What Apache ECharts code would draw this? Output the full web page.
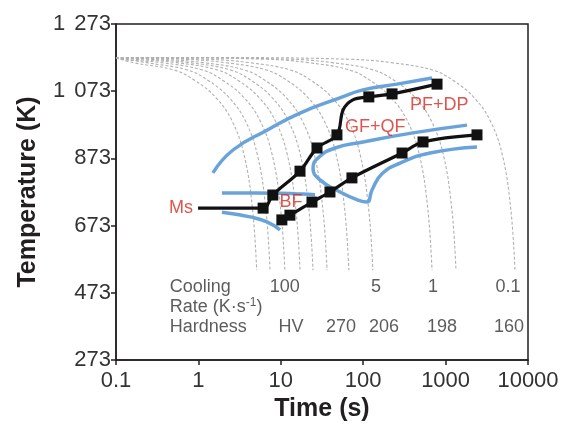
<!DOCTYPE html>
<html><head><meta charset="utf-8">
<script src="https://cdn.jsdelivr.net/npm/echarts@6/dist/echarts.min.js"></script>
<style>html,body{margin:0;padding:0;background:#fff}#c{width:577px;height:424px}</style>
</head><body><div id="c"></div>
<script>
// ---- data ----
const xTicks = [0.1, 1, 10, 100, 1000, 10000];
const yTicks = [273, 473, 673, 873, 1073, 1273];
// cooling curves: time (s) at which each dashed curve reaches its end temperature
const coolEndTimes = [5.1, 7.4, 11.2, 17.1, 24.6, 36.4, 67, 131, 684, 1337, 6950];
// shared shape of the cooling curves: log-offset before the end time, and temperature (K)
const coolShapeOffset = [3.5, 2.0, 1.5, 1.0, 0.75, 0.5, 0.3, 0.15, 0.05, 0];
const coolShapeTemp   = [1173, 1168, 1158, 1136, 1105, 1055, 985, 880, 720, 540];
// transformation curves (black with square markers)
const upperTime = [0.99, 6.1, 8.0, 17.1, 27.5, 48, 57, 75, 117, 224, 787];
const upperTemp = [725, 725, 764, 835, 904, 943, 1017, 1047, 1056, 1065, 1094];
const upperMark = [0, 1, 1, 1, 1, 1, 0, 0, 1, 1, 1];
const lowerTime = [10.3, 12.9, 23.9, 39.5, 73, 296, 532, 2404];
const lowerTemp = [690, 704, 743, 773, 815, 889, 922, 943];
// blue phase-field boundaries
const blue1Time = [1.5, 2.63, 6.8, 17.1, 52, 99.5, 257, 684];
const blue1Temp = [830, 898, 957, 1008, 1053, 1077, 1094, 1112];
const blue2Time = [1.93, 5, 10, 18, 26];
const blue2Temp = [770, 770, 769, 767, 765];
const blue3Time = [1820, 402, 99.5, 45.5, 28.3, 24.6, 29.9, 52.3, 86.5, 111, 128, 169, 280, 647, 2404];
const blue3Temp = [972, 949, 922, 904, 874, 844, 809, 773, 749, 743, 779, 827, 859, 889, 907];
const blue4Time = [1.93, 4.23, 6.8, 9.8];
const blue4Temp = [713, 699, 684, 660];
// phase labels
const phaseLabels = ['Ms', 'BF', 'GF+QF', 'PF+DP'];
const phaseTime = [0.86, 13.3, 60, 370];
const phaseTemp = [725, 742, 966, 1032];
const phaseAlign = ['right', 'center', 'left', 'left'];
// cooling rate / hardness annotations
const rowTitles = ['Cooling', 'Rate (K·s{sup|-1})', 'Hardness'];
const rowTemp = [490, 431, 371];
const rowTime = 0.45;
const rateLabels = ['100', '5', '1', '0.1'];
const rateTime = [11.2, 143, 703, 5715];
const hardLabels = ['HV', '270', '206', '198', '160'];
const hardTime = [13.3, 53.8, 179, 903, 5870];

// ---- build ----
const zip = (a, b) => a.map((v, i) => [v, b[i]]);
const FONT = 'Liberation Sans, Arial, sans-serif';
const series = [];
coolEndTimes.forEach(te => {
  const pts = [[0.1, 1173]];
  coolShapeOffset.forEach((d, i) => {
    const t = te / Math.pow(10, d);
    if (t > 0.1) pts.push([t, coolShapeTemp[i]]);
  });
  series.push({type: 'line', data: pts, smooth: 0.4, symbol: 'none', silent: true,
    lineStyle: {color: '#b0b0b0', width: 1.1, type: [3, 2]}, z: 1});
});
const blueStyle = {color: '#6aa3d9', width: 3.5};
[[blue1Time, blue1Temp], [blue2Time, blue2Temp], [blue3Time, blue3Temp], [blue4Time, blue4Temp]].forEach(([t, T]) => {
  series.push({type: 'line', data: zip(t, T), smooth: 0.5, symbol: 'none', lineStyle: blueStyle, z: 2});
});
series.push({type: 'line', data: zip(upperTime, upperTemp).map((p, i) => ({value: p, symbol: upperMark[i] ? 'rect' : 'none'})),
  smooth: 0.35, symbolSize: 11, itemStyle: {color: '#111'}, lineStyle: {color: '#111', width: 3.2}, z: 3});
series.push({type: 'line', data: zip(lowerTime, lowerTemp), smooth: 0.35, symbol: 'rect', symbolSize: 11,
  itemStyle: {color: '#111'}, lineStyle: {color: '#111', width: 3.2}, z: 3});
const txt = (name, t, T, align, color, size) => ({value: [t, T], name,
  label: {show: true, position: 'inside', formatter: name, align, verticalAlign: 'middle', color, fontSize: size, fontFamily: FONT,
    rich: {sup: {fontSize: 12, color, fontFamily: FONT, padding: [0, 0, 8, 0]}}}});
const labels = [];
phaseLabels.forEach((n, i) => labels.push(txt(n, phaseTime[i], phaseTemp[i], phaseAlign[i], '#d62a20', 18)));
rowTitles.forEach((n, i) => labels.push(txt(n, rowTime, rowTemp[i], 'left', '#333', 18)));
rateLabels.forEach((n, i) => labels.push(txt(n, rateTime[i], rowTemp[0], 'center', '#333', 18)));
hardLabels.forEach((n, i) => labels.push(txt(n, hardTime[i], rowTemp[2], 'center', '#333', 18)));
series.push({type: 'scatter', data: labels, symbolSize: 0, silent: true, z: 5});

const chart = echarts.init(document.getElementById('c'));
chart.setOption({
  animation: false,
  grid: {left: 116, right: 49, top: 24, bottom: 64, containLabel: false, outerBoundsMode: 'none',
    show: true, borderColor: '#231f20', borderWidth: 1.5},
  xAxis: {type: 'log', logBase: 10, min: xTicks[0], max: xTicks[xTicks.length - 1],
    name: 'Time (s)', nameLocation: 'middle', nameGap: 37,
    nameTextStyle: {fontSize: 25, fontWeight: 'bold', color: '#231f20', fontFamily: FONT},
    axisLine: {lineStyle: {color: '#231f20', width: 1.5}},
    axisTick: {show: true, length: 5, lineStyle: {color: '#231f20', width: 1.5}},
    splitLine: {show: false}, minorTick: {show: false},
    axisLabel: {fontSize: 22, color: '#333', fontFamily: FONT, margin: 10,
      formatter: v => { const m = xTicks.find(x => Math.abs(x - v) / x < 1e-6); return m === undefined ? '' : String(m); }}},
  yAxis: {type: 'value', min: yTicks[0], max: yTicks[yTicks.length - 1], interval: 200,
    name: 'Temperature (K)', nameLocation: 'middle', nameGap: 75,
    nameTextStyle: {fontSize: 25, fontWeight: 'bold', color: '#231f20', fontFamily: FONT},
    axisLine: {show: true, lineStyle: {color: '#231f20', width: 1.5}},
    axisTick: {show: true, length: 5, lineStyle: {color: '#231f20', width: 1.5}},
    splitLine: {show: false},
    axisLabel: {fontSize: 22, color: '#333', fontFamily: FONT, margin: 5,
      rich: {k: {fontSize: 22, color: '#333', fontFamily: FONT, padding: [0, 3, 0, 0]}},
      formatter: v => { const s = String(Math.round(v)); return s.length > 3 ? '{k|' + s.slice(0, -3) + '} ' + s.slice(-3) : s; }}},
  series
});
</script></body></html>
